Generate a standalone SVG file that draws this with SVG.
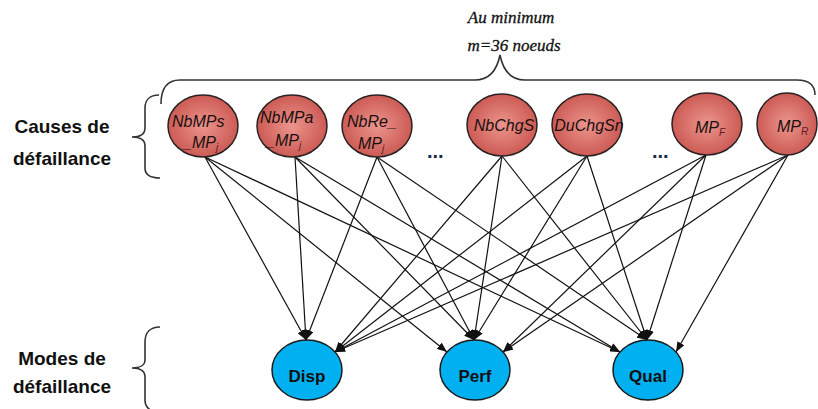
<svg xmlns="http://www.w3.org/2000/svg" width="818" height="409" viewBox="0 0 818 409">
<defs>
<radialGradient id="red" cx="50%" cy="50%" r="55%">
<stop offset="0" stop-color="#ec958d"/>
<stop offset="1" stop-color="#c9554f"/>
</radialGradient>
<marker id="ah" viewBox="0 0 10 8" refX="10" refY="4" markerWidth="10" markerHeight="8" markerUnits="userSpaceOnUse" orient="auto">
<path d="M0,0 L10,4 L0,8 z" fill="#111"/>
</marker>
</defs>
<style>
.cause{fill:url(#red);stroke:#2a2222;stroke-width:1.5}
.mode{fill:#00b0f0;stroke:#1a1a1a;stroke-width:1.5}
.ct{font-family:"Liberation Sans",Arial,sans-serif;font-style:italic;font-size:16px;fill:#1a1010}
.sub{font-size:10px;fill:#5a2020}
.mt{font-family:"Liberation Sans",Arial,sans-serif;font-weight:bold;font-size:17px;fill:#111;text-anchor:middle}
.lab{font-family:"Liberation Sans",Arial,sans-serif;font-weight:bold;font-size:19px;fill:#111;text-anchor:middle}
.note{font-family:"Liberation Serif","Times New Roman",serif;font-style:italic;font-size:17px;fill:#111;text-anchor:middle;stroke:#111;stroke-width:0.3}
.brace{fill:none;stroke:#333;stroke-width:1.6}
.edge{stroke:#111;stroke-width:1.2;marker-end:url(#ah)}
.dots{font-family:"Liberation Sans",Arial,sans-serif;font-weight:bold;font-size:20px;fill:#1a2a4a}
</style>

<g id="annotations">
<text class="note" x="511" y="23">Au minimum</text>
<text class="note" x="514" y="51">m=36 noeuds</text>
<path class="brace" d="M161,104 C161,90 166,80 180,80 L475,80 C490,80 497,70 500,55 C503,70 510,80 525,80 L797,80 C810,80 815,86 815,95"/>
<text class="lab" x="62" y="133">Causes de</text>
<text class="lab" x="62" y="165">défaillance</text>
<path class="brace" d="M159,95 C150,95 145,100 145,108 L145,128 C145,134 140,137 132,137 C140,137 145,140 145,146 L145,168 C145,175 150,178 160,178"/>
<text class="lab" x="62" y="365">Modes de</text>
<text class="lab" x="62" y="393">défaillance</text>
<path class="brace" d="M160,327 C150,327 145,333 145,342 L145,360 C145,365 140,368 132,368 C140,368 145,371 145,377 L145,400 C145,406 148,409 152,411"/>
<text class="dots" x="427" y="158">...</text>
<text class="dots" x="652" y="158">...</text>
</g>

<g id="connectors">
<line class="edge" x1="205" y1="157" x2="306" y2="340"/>
<line class="edge" x1="205" y1="157" x2="447" y2="352"/>
<line class="edge" x1="205" y1="157" x2="620" y2="352"/>
<line class="edge" x1="295" y1="157" x2="306" y2="340"/>
<line class="edge" x1="295" y1="157" x2="474" y2="340"/>
<line class="edge" x1="295" y1="157" x2="620" y2="352"/>
<line class="edge" x1="377" y1="157" x2="306" y2="340"/>
<line class="edge" x1="377" y1="157" x2="474" y2="340"/>
<line class="edge" x1="377" y1="157" x2="647" y2="340"/>
<line class="edge" x1="502" y1="156" x2="335" y2="352"/>
<line class="edge" x1="502" y1="156" x2="474" y2="340"/>
<line class="edge" x1="502" y1="156" x2="647" y2="340"/>
<line class="edge" x1="587" y1="156" x2="335" y2="352"/>
<line class="edge" x1="587" y1="156" x2="474" y2="340"/>
<line class="edge" x1="587" y1="156" x2="647" y2="340"/>
<line class="edge" x1="706" y1="155" x2="335" y2="352"/>
<line class="edge" x1="706" y1="155" x2="503" y2="352"/>
<line class="edge" x1="706" y1="155" x2="647" y2="340"/>
<line class="edge" x1="788" y1="155" x2="335" y2="352"/>
<line class="edge" x1="788" y1="155" x2="503" y2="352"/>
<line class="edge" x1="788" y1="155" x2="676" y2="352"/>
</g>

<g id="NbMPs_MPj">
<ellipse class="cause" cx="203" cy="126" rx="35" ry="31"/>
<text class="ct" x="172" y="127">NbMPs</text>
<text class="ct" x="183" y="148">_MP<tspan class="sub" dy="3">j</tspan></text>
</g>
<g id="NbMPa_MPj">
<ellipse class="cause" cx="292" cy="126" rx="35" ry="31"/>
<text class="ct" x="260" y="123">NbMPa</text>
<text class="ct" x="266" y="146">_MP<tspan class="sub" dy="3">j</tspan></text>
</g>
<g id="NbRe_MPj">
<ellipse class="cause" cx="377" cy="126" rx="35" ry="31"/>
<text class="ct" x="347" y="127">NbRe_</text>
<text class="ct" x="358" y="149">MP<tspan class="sub" dy="3">j</tspan></text>
</g>
<g id="NbChgS">
<ellipse class="cause" cx="502" cy="125" rx="35" ry="31"/>
<text class="ct" x="504" y="131" text-anchor="middle">NbChgS</text>
</g>
<g id="DuChgSn">
<ellipse class="cause" cx="587" cy="125" rx="35" ry="31"/>
<text class="ct" x="589" y="131" text-anchor="middle">DuChgSn</text>
</g>
<g id="MPF">
<ellipse class="cause" cx="707" cy="124" rx="35" ry="31"/>
<text class="ct" x="695" y="133">MP<tspan class="sub" dy="3">F</tspan></text>
</g>
<g id="MPR">
<ellipse class="cause" cx="787" cy="124" rx="30" ry="31"/>
<text class="ct" x="777" y="132">MP<tspan class="sub" dy="3">R</tspan></text>
</g>

<g id="Disp">
<ellipse class="mode" cx="307" cy="370" rx="35" ry="30"/>
<text class="mt" x="307" y="382">Disp</text>
</g>
<g id="Perf">
<ellipse class="mode" cx="475" cy="370" rx="35" ry="30"/>
<text class="mt" x="475" y="382">Perf</text>
</g>
<g id="Qual">
<ellipse class="mode" cx="648" cy="370" rx="35" ry="30"/>
<text class="mt" x="648" y="382">Qual</text>
</g>
</svg>
